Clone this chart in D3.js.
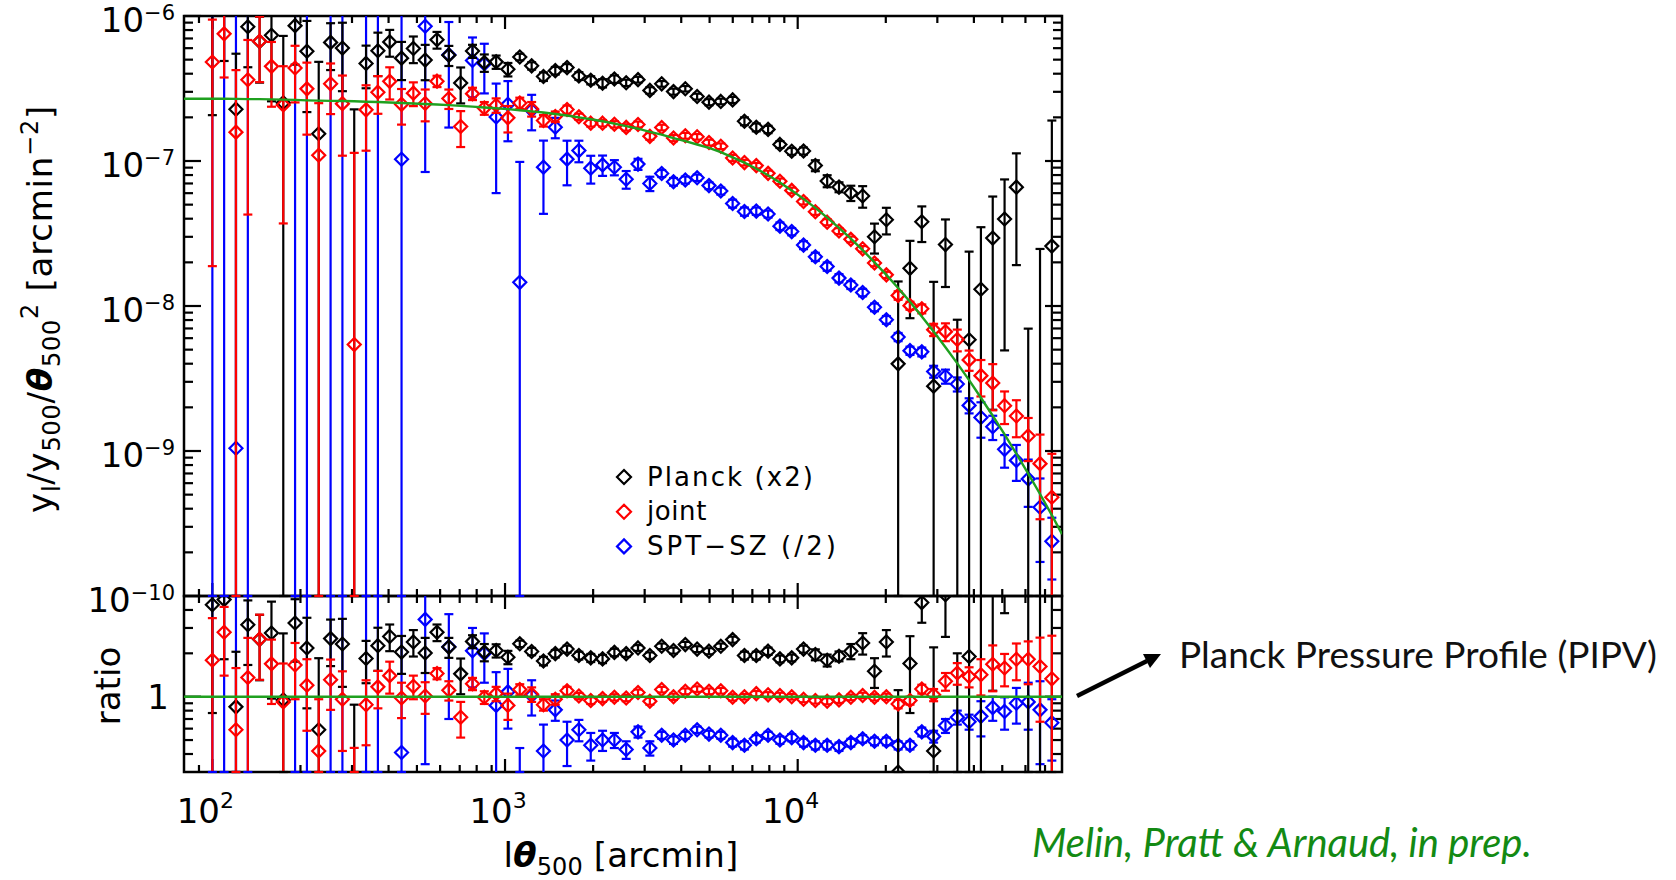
<!DOCTYPE html>
<html>
<head>
<meta charset="utf-8">
<script src="https://cdn.jsdelivr.net/npm/d3@7"></script>
<style>
  html, body { margin: 0; padding: 0; background: #fff; }
  svg { display: block; }
  text { font-family: "DejaVu Sans", sans-serif; }
</style>
</head>
<body>
<div id="chart"></div>
<script>
// l*theta500 [arcmin] bin centres
var theta = [100, 109.7, 120.4, 132.2, 145, 159.2, 174.7, 191.7, 210.4, 230.9,
  253.5, 278.2, 305.3, 335.1, 367.8, 403.6, 443, 486.2, 533.6, 585.6,
  642.7, 705.4, 774.2, 849.7, 932.5, 1023, 1123, 1233, 1353, 1485,
  1629, 1788, 1963, 2154, 2364, 2594, 2847, 3125, 3430, 3764,
  4130, 4533, 4976, 5461, 5993, 6577, 7219, 7922, 8695, 9541,
  10470, 11490, 12610, 13840, 15190, 16670, 18300, 20090, 22040, 24190,
  26550, 29140, 31980, 35100, 38520, 42270, 46390, 50920, 55880, 61330,
  67300, 73860];

// Planck pressure profile (PIPV) model, y_l/y500/theta500^2 at each bin
var modelY = [2.69e-7, 2.69e-7, 2.68e-7, 2.67e-7, 2.67e-7, 2.66e-7, 2.65e-7, 2.64e-7, 2.62e-7, 2.61e-7,
  2.60e-7, 2.59e-7, 2.58e-7, 2.56e-7, 2.55e-7, 2.53e-7, 2.51e-7, 2.49e-7, 2.47e-7, 2.45e-7,
  2.43e-7, 2.40e-7, 2.37e-7, 2.34e-7, 2.31e-7, 2.28e-7, 2.24e-7, 2.20e-7, 2.16e-7, 2.11e-7,
  2.06e-7, 2.00e-7, 1.94e-7, 1.88e-7, 1.81e-7, 1.74e-7, 1.67e-7, 1.59e-7, 1.52e-7, 1.44e-7,
  1.37e-7, 1.30e-7, 1.23e-7, 1.15e-7, 1.06e-7, 9.75e-8, 8.85e-8, 7.98e-8, 7.11e-8, 6.27e-8,
  5.48e-8, 4.75e-8, 4.07e-8, 3.46e-8, 2.91e-8, 2.43e-8, 2.00e-8, 1.64e-8, 1.33e-8, 1.07e-8,
  8.47e-9, 6.67e-9, 5.20e-9, 4.02e-9, 3.08e-9, 2.33e-9, 1.75e-9, 1.30e-9, 9.57e-10, 6.98e-10,
  5.05e-10, 3.61e-10];
var modelEndX = [80, 80000];
var modelEndY = [2.69e-7, 2.67e-10];

// data / model ratios and their errors (null = no point)
var planckRatio = [4.35, 4.72, 0.85, 3.16, 2.5, 2.77, 0.95, 3.25, 2.18, 0.59,
  2.53, 2.32, -0.2, 1.84, 2.26, 2.62, 2.04, 2.40, 2.01, 2.80,
  2.21, 1.44, 2.42, 2.04, 2.09, 1.88, 2.33, 2.06, 1.77, 1.99,
  2.14, 1.93, 1.86, 1.83, 2.03, 1.99, 2.18, 1.93, 2.24, 2.09,
  2.30, 2.14, 2.07, 2.24, 2.49, 1.93, 1.93, 2.07, 1.83, 1.86,
  2.14, 1.96, 1.79, 1.91, 2.07, 2.36, 1.5, 2.4, 0.30, 1.7,
  4.5, 0.42, 5.1, -0.3, 1.9, 5.6, 16.8, 30.6, 69, -20,
  -10, 71.7];
var planckRatioErr = [3.58, 2.9, 1.2, 1.5, 1.2, 1.8, 1.8, 1.5, 1.35, 1.26,
  0.9, 1.15, 1.08, 0.6, 0.75, 0.55, 0.6, 0.5, 0.55, 0.37,
  0.35, 0.4, 0.25, 0.28, 0.22, 0.2, 0.12, 0.12, 0.12, 0.12,
  0.12, 0.12, 0.12, 0.12, 0.12, 0.1, 0.1, 0.1, 0.1, 0.1,
  0.1, 0.1, 0.1, 0.1, 0.12, 0.12, 0.12, 0.12, 0.1, 0.1,
  0.12, 0.17, 0.17, 0.15, 0.25, 0.4, 0.35, 0.5, 0.81, 0.93,
  1.24, 1.78, 2.5, 2.3, 5.8, 9.4, 15.7, 26.8, 49, 30,
  59, 455];

var jointRatio = [1.79, 2.80, 0.59, 1.36, 2.51, 1.69, 0.92, 1.66, 1.20, 0.42,
  1.31, 0.96, 0.021, 0.88, 1.17, 1.40, 0.98, 1.18, 1.01, 1.45,
  1.11, 0.72, 1.23, 0.99, 1.05, 0.87, 1.12, 1.04, 0.88, 0.96,
  1.10, 1.01, 0.94, 0.97, 0.99, 0.98, 1.07, 0.93, 1.12, 1.00,
  1.09, 1.13, 1.09, 1.10, 0.99, 1.00, 1.05, 1.03, 1.02, 1.00,
  0.96, 0.94, 0.93, 0.95, 0.99, 1.02, 0.99, 1.00, 0.89, 0.94,
  1.13, 1.03, 1.28, 1.46, 1.38, 1.42, 1.68, 1.58, 1.82, 1.82,
  1.62, 1.33];
var jointRatioErr = [1.72, 1.4, 0.99, 1.2, 1.2, 0.8, 0.78, 0.7, 0.62, 0.54,
  0.5, 0.54, 0.42, 0.42, 0.34, 0.35, 0.27, 0.22, 0.25, 0.13,
  0.17, 0.2, 0.12, 0.1, 0.12, 0.18, 0.1, 0.12, 0.08, 0.08,
  0.07, 0.05, 0.05, 0.05, 0.05, 0.05, 0.05, 0.05, 0.05, 0.05,
  0.05, 0.05, 0.05, 0.05, 0.05, 0.045, 0.045, 0.045, 0.045, 0.045,
  0.045, 0.045, 0.045, 0.045, 0.045, 0.045, 0.05, 0.05, 0.06, 0.06,
  0.08, 0.1, 0.18, 0.25, 0.22, 0.4, 0.59, 0.4, 0.52, 0.6,
  0.95, 1.32];

var sptRatio = [-1, -1, 0.0039, -1, null, null, null, -1, -1, null,
  -1, -1, null, -1, -1, null, 0.41, null, 3.44, null,
  2.22, null, 2.08, 2.0, 0.87, 1.08, 0.065, 1.02, 0.42, 0.81,
  0.50, 0.59, 0.46, 0.50, 0.50, 0.43, 0.57, 0.44, 0.54, 0.50,
  0.54, 0.59, 0.55, 0.54, 0.48, 0.46, 0.51, 0.54, 0.50, 0.52,
  0.48, 0.46, 0.46, 0.45, 0.48, 0.51, 0.49, 0.49, 0.46, 0.46,
  0.57, 0.53, 0.63, 0.72, 0.67, 0.73, 0.84, 0.79, 0.90, 0.92,
  0.81, 0.66];
var sptRatioErr = [8, 8, 6, 8, null, null, null, 8, 8, null,
  8, 8, null, 8, 8, null, 6, null, 3.1, null,
  1.52, null, 0.92, 0.75, 0.61, 0.48, 0.375, 0.28, 0.22, 0.13,
  0.17, 0.1, 0.1, 0.08, 0.06, 0.06, 0.05, 0.05, 0.03, 0.03,
  0.03, 0.03, 0.03, 0.03, 0.03, 0.03, 0.03, 0.03, 0.03, 0.03,
  0.03, 0.03, 0.03, 0.03, 0.03, 0.03, 0.03, 0.03, 0.03, 0.03,
  0.04, 0.05, 0.07, 0.08, 0.08, 0.2, 0.16, 0.2, 0.25, 0.33,
  0.47, 0.3];

// axis ticks
var xMajor = [100, 1000, 10000];
var xMinor = [90, 200, 300, 400, 500, 600, 700, 800, 900, 2000, 3000, 4000, 5000, 6000, 7000, 8000, 9000,
  20000, 30000, 40000, 50000, 60000, 70000];
var xLabels = ["2", "3", "4"];
var yMajor = [1e-10, 1e-9, 1e-8, 1e-7, 1e-6];
var yLabels = ["−10", "−9", "−8", "−7", "−6"];
var rMajor = [1];
var rMinor = [0.4, 0.5, 0.6, 0.7, 0.8, 0.9, 2, 3, 4];

var legendNames = ["Planck (x2)", "joint", "SPT−SZ (/2)"];
var legendWidths = [168, 61, 192];
var legendColors = ["#000000", "#ff0000", "#0000ff"];

var W = 1676, H = 880;
var pL = 184, pR = 1062, pT = 16, pM = 596, pB = 772;

var svg = d3.select("#chart").append("svg")
  .attr("width", W).attr("height", H);

var x = d3.scaleLog().domain([80, 80000]).range([pL, pR]);
var yUp = d3.scaleLog().domain([1e-10, 1e-6]).range([pM, pT]);
var yLo = d3.scaleLog().domain([0.3, 5]).range([pB, pM]);

var defs = svg.append("defs");
defs.append("clipPath").attr("id", "clipUp").append("rect")
  .attr("x", pL).attr("y", pT).attr("width", pR - pL).attr("height", pM - pT);
defs.append("clipPath").attr("id", "clipLo").append("rect")
  .attr("x", pL).attr("y", pM).attr("width", pR - pL).attr("height", pB - pM);

function seg(g, x1, y1, x2, y2, color, w) {
  g.append("line").attr("x1", x1).attr("y1", y1).attr("x2", x2).attr("y2", y2)
    .attr("stroke", color).attr("stroke-width", w);
}

// frames and ticks
var axes = svg.append("g");
function yTicks(scale, majors, minors) {
  [[pL, 1], [pR, -1]].forEach(function(s) {
    majors.forEach(function(v) { seg(axes, s[0], scale(v), s[0] + s[1] * 17, scale(v), "#000", 2.2); });
    minors.forEach(function(v) { seg(axes, s[0], scale(v), s[0] + s[1] * 9, scale(v), "#000", 2.2); });
  });
}
function xTicks(y0, dir) {
  xMajor.forEach(function(v) { seg(axes, x(v), y0, x(v), y0 + dir * 13, "#000", 2.2); });
  xMinor.forEach(function(v) { seg(axes, x(v), y0, x(v), y0 + dir * 7, "#000", 2.2); });
}
var upMinor = [];
[-10, -9, -8, -7].forEach(function(e) {
  for (var m = 2; m <= 9; m++) upMinor.push(m * Math.pow(10, e));
});
yTicks(yUp, yMajor, upMinor);
yTicks(yLo, rMajor, rMinor);
xTicks(pT, 1); xTicks(pM, -1); xTicks(pM, 1); xTicks(pB, -1);

axes.append("rect").attr("x", pL).attr("y", pT).attr("width", pR - pL).attr("height", pM - pT)
  .attr("fill", "none").attr("stroke", "#000").attr("stroke-width", 2.5);
axes.append("rect").attr("x", pL).attr("y", pM).attr("width", pR - pL).attr("height", pB - pM)
  .attr("fill", "none").attr("stroke", "#000").attr("stroke-width", 2.5);

// tick labels
yMajor.forEach(function(v, i) {
  var t = svg.append("text").attr("x", 175).attr("y", yUp(v) + 15.5)
    .attr("text-anchor", "end").attr("font-size", 34);
  t.append("tspan").text("10");
  t.append("tspan").attr("dy", -12).attr("font-size", 21).text(yLabels[i]);
});
svg.append("text").attr("x", 169).attr("y", yLo(1) + 12.4)
  .attr("text-anchor", "end").attr("font-size", 34).text("1");
xMajor.forEach(function(v, i) {
  var t = svg.append("text").attr("x", x(v) - 7).attr("y", 823)
    .attr("text-anchor", "middle").attr("font-size", 34);
  t.append("tspan").text("10");
  t.append("tspan").attr("dy", -15).attr("font-size", 22).text(xLabels[i]);
});

function fitSpacing(t, target) {
  var w = t.node().getBBox().width;
  var n = t.text().length;
  t.attr("letter-spacing", ((target - w) / n).toFixed(2));
}

// axis titles
var yt = svg.append("text").attr("transform", "translate(52,309) rotate(-90)")
  .attr("text-anchor", "middle").attr("font-size", 34);
yt.append("tspan").text("y");
yt.append("tspan").attr("dy", 8).attr("font-size", 24).text("l");
yt.append("tspan").attr("dy", -8).text("/y");
yt.append("tspan").attr("dy", 8).attr("font-size", 24).text("500");
yt.append("tspan").attr("dy", -8).text("/");
yt.append("tspan").attr("font-weight", "bold").attr("font-style", "italic").text("θ");
yt.append("tspan").attr("dy", 8).attr("font-size", 24).text("500");
yt.append("tspan").attr("dy", -22).attr("font-size", 24).text("2");
yt.append("tspan").attr("dy", 14).text(" [arcmin");
yt.append("tspan").attr("dy", -14).attr("font-size", 24).text("−2");
yt.append("tspan").attr("dy", 14).text("]");
fitSpacing(yt, 408);

svg.append("text").attr("transform", "translate(120,686) rotate(-90)")
  .attr("text-anchor", "middle").attr("font-size", 34).text("ratio");

var xt = svg.append("text").attr("x", 621).attr("y", 867)
  .attr("text-anchor", "middle").attr("font-size", 34);
xt.append("tspan").text("l");
xt.append("tspan").attr("font-weight", "bold").attr("font-style", "italic").text("θ");
xt.append("tspan").attr("dy", 8).attr("font-size", 24).text("500");
xt.append("tspan").attr("dy", -8).text(" [arcmin]");
fitSpacing(xt, 235);

// data
function diamond(h) { return "M0," + (-h) + "L" + h + ",0L0," + h + "L" + (-h) + ",0Z"; }

var series = [
  { r: sptRatio, e: sptRatioErr, color: "#0000ff" },
  { r: planckRatio, e: planckRatioErr, color: "#000000" },
  { r: jointRatio, e: jointRatioErr, color: "#ff0000" }
];
var panels = [
  { y: yUp, clip: "clipUp", floor: pM, upper: true },
  { y: yLo, clip: "clipLo", floor: pB, upper: false }
];

var loose = svg.append("g");
panels.forEach(function(p) {
  var g = svg.append("g").attr("clip-path", "url(#" + p.clip + ")");
  series.forEach(function(s) {
    s.r.forEach(function(r, i) {
      if (r === null) return;
      var f = p.upper ? modelY[i] : 1;
      var v = r * f, err = s.e[i] * f;
      var lo = v - err, hi = v + err;
      var px = x(theta[i]);
      var yh = hi > 0 ? p.y(hi) : p.floor;
      var yl = lo > 0 ? p.y(lo) : p.floor;
      seg(g, px, yl, px, yh, s.color, 2.2);
      seg(g, px - 4.5, yh, px + 4.5, yh, s.color, 2.2);
      seg(lo > 0 ? g : loose, px - 4.5, yl, px + 4.5, yl, s.color, 2.2);
      if (v > 0) {
        g.append("path").attr("d", diamond(6.5))
          .attr("transform", "translate(" + px + "," + p.y(v) + ")")
          .attr("fill", "none").attr("stroke", s.color).attr("stroke-width", 2.2);
      }
    });
  });
  // model curve (ratio panel: model / model = 1)
  var pts = [[modelEndX[0], modelEndY[0]]];
  theta.forEach(function(t, i) { pts.push([t, modelY[i]]); });
  pts.push([modelEndX[1], modelEndY[1]]);
  var line = d3.line()
    .x(function(d) { return x(d[0]); })
    .y(function(d) { return p.upper ? p.y(d[1]) : p.y(d[1] / d[1]); });
  g.append("path").attr("d", line(pts)).attr("fill", "none")
    .attr("stroke", "#1fa01f").attr("stroke-width", 2.4);
});
loose.raise();

// legend
legendNames.forEach(function(n, i) {
  var cy = 477 + i * 34.7;
  svg.append("path").attr("d", diamond(7))
    .attr("transform", "translate(624," + cy + ")")
    .attr("fill", "none").attr("stroke", legendColors[i]).attr("stroke-width", 2.2);
  var t = svg.append("text").attr("x", 647).attr("y", cy + 8.5)
    .attr("font-size", 26).text(n);
  fitSpacing(t, legendWidths[i]);
});

// annotations
var ann = svg.append("text").attr("x", 1179).attr("y", 668)
  .style("font-family", "Lato, 'Open Sans', sans-serif").attr("font-size", 34)
  .attr("fill", "#111").text("Planck Pressure Profile (PIPV)");
var aw = ann.node().getBBox().width;
ann.attr("font-size", (34 * 478 / aw).toFixed(2));

seg(svg, 1077, 696, 1147, 661, "#000", 4.5);
svg.append("path").attr("d", "M1161,654L1150,668L1143,654Z").attr("fill", "#000");

var cite = svg.append("text").attr("x", 1032).attr("y", 857)
  .style("font-family", "Lato, 'Open Sans', sans-serif").attr("font-style", "italic")
  .attr("font-size", 34).attr("fill", "#138a13").text("Melin, Pratt & Arnaud, in prep.");
var cw = cite.node().getBBox().width;
cite.attr("font-size", (34 * 500 / cw).toFixed(2));
</script>
</body>
</html>
